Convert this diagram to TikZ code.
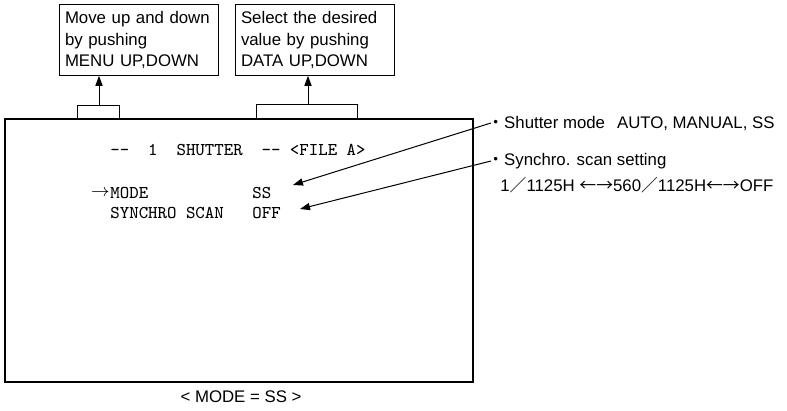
\documentclass[tikz,border=0pt]{standalone}
\usepackage{fontspec}
\setmainfont{Liberation Sans}
\newfontfamily\cjkfont{Noto Sans CJK JP}
\usetikzlibrary{positioning,arrows.meta}

\begin{document}
\begin{tikzpicture}[
  x=0.5pt,y=-0.5pt,
  font=\fontsize{8.4}{10.75}\selectfont,
  note/.style={draw,line width=0.5pt,minimum width=79.5pt,minimum height=34pt,text width=73.5pt,inner xsep=3pt,align=left},
  osd/.style={font=\fontsize{9}{10}\selectfont\ttfamily,anchor=west,inner sep=0pt},
  remark/.style={anchor=west,inner sep=0pt},
  lead/.style={line width=0.5pt,-{Triangle[length=5pt,width=3.6pt]}}
]
\useasboundingbox (0,0) rectangle (787,411);

\node[draw,line width=0.6pt,minimum width=234pt,minimum height=131.5pt] (screen) at (239,250.5) {};

\node[note] (menu) at (138.5,40) {Move up and down\\by pushing\\MENU UP,DOWN};
\node[note] (data) at (314.5,40) {Select the desired\\value by pushing\\DATA UP,DOWN};

% key brackets on top of the screen
\draw[line width=0.5pt] (77,119) |- (119,106) -- (119,119);
\draw[line width=0.5pt] (256,119) |- (357,105) -- (357,119);
\coordinate (menukey) at (99,106);
\coordinate (datakey) at (308,105);
\draw[lead] (menukey) -- (menukey |- menu.south);
\draw[lead] (datakey) -- (datakey |- data.south);

% on-screen menu
\node[osd] (title) at (110,150) {-{}-~~1~~SHUTTER~~-{}-~<FILE~A>};
\node[osd] (mode) at (110,193) {MODE};
\node[osd,anchor=east] (cursor) at (mode.west) {$\rightarrow$};
\node[osd] (modeval) at (252,193) {SS};
\node[osd] (sync) at (110,213) {SYNCHRO~SCAN};
\node[osd] (syncval) at (252,213) {OFF};

% remarks
\node[remark] (shutnote) at (487,123) {{\cjkfont ・}Shutter mode\hspace{6pt}AUTO, MANUAL, SS};
\node[remark] (syncnote) at (487,161) {{\cjkfont ・}Synchro. scan setting};
\node[remark] (syncsteps) at (500,185) {1{\cjkfont ／}1125H {\cjkfont ←→}560{\cjkfont ／}1125H{\cjkfont ←→}OFF};
\coordinate (modetip) at (293,185);
\coordinate (synctip) at (300,209);
\draw[lead] ([xshift=2pt]shutnote.west) -- (modetip);
\draw[lead] ([xshift=2pt]syncnote.west) -- (synctip);

\node (caption) at (241,397) {< MODE = SS >};
\end{tikzpicture}
\end{document}
